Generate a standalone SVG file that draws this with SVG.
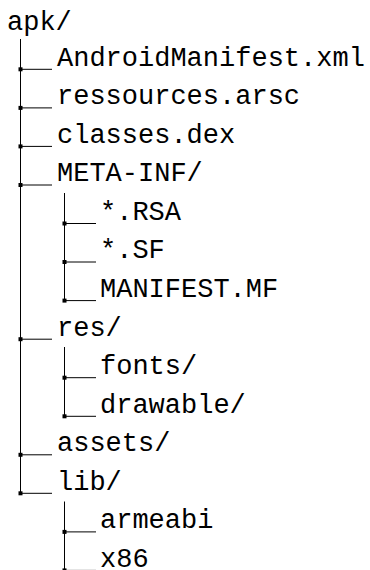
<svg xmlns="http://www.w3.org/2000/svg" width="370" height="570" viewBox="0 0 370 570">
<style>
  text { font-family: "Liberation Mono", "DejaVu Sans Mono", monospace; font-size: 27px; fill: #000; }
  .tree { stroke: #000; stroke-width: 1; fill: none; }
</style>
<defs>
  <marker id="sq" markerUnits="userSpaceOnUse" markerWidth="5" markerHeight="5" refX="2.5" refY="2.5" viewBox="0 0 5 5">
    <rect x="0.5" y="0.5" width="4" height="4" fill="#000"/>
  </marker>
</defs>
<rect width="370" height="570" fill="#fff"/>
<g id="connectors" class="tree">
  <path d="M20.5 39 V493.3"/>
  <path d="M64.5 193 V300.6"/>
  <path d="M64.5 347 V416.3"/>
  <path d="M64.5 501.5 V570.5"/>
  <path d="M20.5 69.3 H52" marker-start="url(#sq)"/>
  <path d="M20.5 107.9 H52" marker-start="url(#sq)"/>
  <path d="M20.5 146.4 H52" marker-start="url(#sq)"/>
  <path d="M20.5 185 H52" marker-start="url(#sq)"/>
  <path d="M64.5 223.5 H96" marker-start="url(#sq)"/>
  <path d="M64.5 262 H96" marker-start="url(#sq)"/>
  <path d="M64.5 300.6 H96" marker-start="url(#sq)"/>
  <path d="M20.5 339.2 H52" marker-start="url(#sq)"/>
  <path d="M64.5 377.7 H96" marker-start="url(#sq)"/>
  <path d="M64.5 416.3 H96" marker-start="url(#sq)"/>
  <path d="M20.5 454.8 H52" marker-start="url(#sq)"/>
  <path d="M20.5 493.3 H52" marker-start="url(#sq)"/>
  <path d="M64.5 531.9 H96" marker-start="url(#sq)"/>
  <path d="M64.5 570.4 H96" marker-start="url(#sq)"/>
</g>
<g id="apk"><text x="7" y="29.5">apk/</text></g>
<g id="androidmanifest"><text x="57" y="65.7">AndroidManifest.xml</text></g>
<g id="ressources"><text x="57" y="104.3">ressources.arsc</text></g>
<g id="classes"><text x="57" y="142.8">classes.dex</text></g>
<g id="metainf"><text x="57" y="181.4">META-INF/</text></g>
<g id="rsa"><text x="100" y="219.9">*.RSA</text></g>
<g id="sf"><text x="100" y="258.4">*.SF</text></g>
<g id="manifestmf"><text x="100" y="297">MANIFEST.MF</text></g>
<g id="res"><text x="57" y="335.6">res/</text></g>
<g id="fonts"><text x="100" y="374.1">fonts/</text></g>
<g id="drawable"><text x="100" y="412.7">drawable/</text></g>
<g id="assets"><text x="57" y="451.2">assets/</text></g>
<g id="lib"><text x="57" y="489.7">lib/</text></g>
<g id="armeabi"><text x="100" y="528.3">armeabi</text></g>
<g id="x86"><text x="100" y="566.8">x86</text></g>
</svg>
